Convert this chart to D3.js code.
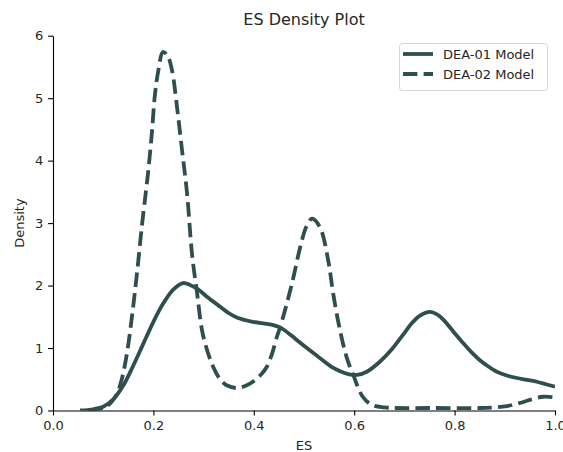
<!DOCTYPE html>
<html>
<head>
<meta charset="utf-8">
<script src="https://cdn.jsdelivr.net/npm/d3@7"></script>
<style>
  html, body { margin: 0; padding: 0; background: #fff; }
  svg { display: block; font-family: "DejaVu Sans", sans-serif; }
</style>
</head>
<body>
<svg id="chart" width="563" height="452"></svg>
<script>
// Kernel density estimates of ES for the two models
const es01X = [0.054, 0.08, 0.10, 0.12, 0.14, 0.16, 0.18, 0.20, 0.22, 0.24, 0.259, 0.273, 0.287, 0.31, 0.333, 0.35, 0.366, 0.398, 0.432, 0.452, 0.475, 0.49, 0.506, 0.522, 0.538, 0.555, 0.572, 0.59, 0.606, 0.625, 0.651, 0.675, 0.698, 0.715, 0.731, 0.751, 0.765, 0.777, 0.797, 0.817, 0.834, 0.851, 0.868, 0.884, 0.904, 0.924, 0.944, 0.964, 0.982, 1.0];
const es01Y = [0, 0.02, 0.06, 0.18, 0.4, 0.72, 1.07, 1.42, 1.72, 1.94, 2.04, 2.01, 1.95, 1.8, 1.66, 1.56, 1.49, 1.42, 1.38, 1.33, 1.2, 1.1, 1.0, 0.9, 0.8, 0.7, 0.63, 0.58, 0.57, 0.62, 0.78, 0.98, 1.22, 1.4, 1.52, 1.58, 1.54, 1.46, 1.27, 1.08, 0.93, 0.8, 0.7, 0.62, 0.56, 0.52, 0.49, 0.46, 0.42, 0.38];

const es02X = [0.07, 0.09, 0.105, 0.117, 0.127, 0.137, 0.147, 0.158, 0.168, 0.177, 0.185, 0.19, 0.197, 0.203, 0.21, 0.219, 0.228, 0.237, 0.247, 0.257, 0.267, 0.277, 0.287, 0.299, 0.319, 0.333, 0.347, 0.366, 0.385, 0.398, 0.415, 0.426, 0.436, 0.446, 0.452, 0.462, 0.478, 0.492, 0.505, 0.516, 0.532, 0.548, 0.558, 0.57, 0.585, 0.598, 0.617, 0.635, 0.66, 0.685, 0.75, 0.85, 0.88, 0.904, 0.93, 0.95, 0.976, 1.0];
const es02Y = [0, 0.02, 0.06, 0.14, 0.26, 0.5, 0.9, 1.55, 2.25, 2.95, 3.5, 3.85, 4.45, 5.05, 5.45, 5.74, 5.68, 5.45, 4.86, 4.17, 3.48, 2.5, 1.88, 1.2, 0.7, 0.5, 0.4, 0.36, 0.4, 0.46, 0.58, 0.7, 0.9, 1.18, 1.32, 1.6, 2.1, 2.6, 2.95, 3.07, 2.93, 2.41, 1.88, 1.35, 0.85, 0.57, 0.22, 0.09, 0.05, 0.04, 0.04, 0.04, 0.05, 0.07, 0.12, 0.17, 0.22, 0.21];

const seriesNames = ["DEA-01 Model", "DEA-02 Model"];
const xTicks = [0.0, 0.2, 0.4, 0.6, 0.8, 1.0];
const yTicks = [0, 1, 2, 3, 4, 5, 6];

const color = "#2f4f4f";
const textColor = "#262626";
const dash = "14.4,6.2";

const svg = d3.select("#chart");
const plot = { left: 53, right: 555, top: 35.7, bottom: 410.5 };

const x = d3.scaleLinear().domain([0, 1]).range([plot.left, plot.right]);
const y = d3.scaleLinear().domain([0, 6]).range([plot.bottom, plot.top]);

// clip the density curves to the axes area
svg.append("defs").append("clipPath").attr("id", "clip")
  .append("rect")
  .attr("x", plot.left).attr("y", plot.top - 10)
  .attr("width", plot.right - plot.left).attr("height", plot.bottom - plot.top + 10);

const line = d3.line()
  .x(d => x(d[0]))
  .y(d => y(d[1]))
  .curve(d3.curveCatmullRom.alpha(0.5));

const series = [
  { name: seriesNames[0], pts: d3.zip(es01X, es01Y), dash: null },
  { name: seriesNames[1], pts: d3.zip(es02X, es02Y), dash: dash }
];

const curves = svg.append("g").attr("clip-path", "url(#clip)");
series.forEach(s => {
  curves.append("path")
    .attr("d", line(s.pts))
    .attr("fill", "none")
    .attr("stroke", color)
    .attr("stroke-width", 3.8)
    .attr("stroke-dasharray", s.dash);
});

// axes (left and bottom spines only)
const xAxis = svg.append("g")
  .attr("transform", `translate(0,${plot.bottom})`)
  .call(d3.axisBottom(x).tickValues(xTicks).tickFormat(d3.format(".1f")).tickSizeInner(4.9).tickSizeOuter(0).tickPadding(4.9));
const yAxis = svg.append("g")
  .attr("transform", `translate(${plot.left},0)`)
  .call(d3.axisLeft(y).tickValues(yTicks).tickFormat(d3.format("d")).tickSizeInner(4.9).tickSizeOuter(0).tickPadding(4.9));

[xAxis, yAxis].forEach(a => {
  a.select(".domain").attr("stroke", "#000").attr("stroke-width", 1.1);
  a.selectAll(".tick line").attr("stroke", "#000").attr("stroke-width", 1.1);
  a.selectAll(".tick text").attr("fill", textColor).attr("font-size", 13)
    .attr("font-family", "DejaVu Sans, sans-serif");
});

// titles
svg.append("text")
  .attr("x", (plot.left + plot.right) / 2).attr("y", 25)
  .attr("text-anchor", "middle").attr("font-size", 16).attr("fill", textColor)
  .text("ES Density Plot");
svg.append("text")
  .attr("x", (plot.left + plot.right) / 2).attr("y", 450)
  .attr("text-anchor", "middle").attr("font-size", 13).attr("fill", textColor)
  .text("ES");
svg.append("text")
  .attr("transform", `translate(24,${(plot.top + plot.bottom) / 2}) rotate(-90)`)
  .attr("text-anchor", "middle").attr("font-size", 13).attr("fill", textColor)
  .text("Density");

// legend
const legend = svg.append("g");
legend.append("rect")
  .attr("x", 399.5).attr("y", 43.5).attr("width", 148).attr("height", 47)
  .attr("rx", 3).attr("fill", "#fff").attr("fill-opacity", 0.8)
  .attr("stroke", "#d6d6d6").attr("stroke-width", 1);
series.forEach((s, i) => {
  const cy = 54 + i * 20;
  legend.append("line")
    .attr("x1", 403).attr("x2", 433).attr("y1", cy).attr("y2", cy)
    .attr("stroke", color).attr("stroke-width", 3.8)
    .attr("stroke-dasharray", s.dash);
  legend.append("text")
    .attr("x", 443).attr("y", cy + 4.7)
    .attr("font-size", 13).attr("fill", textColor)
    .text(s.name);
});
</script>
</body>
</html>
